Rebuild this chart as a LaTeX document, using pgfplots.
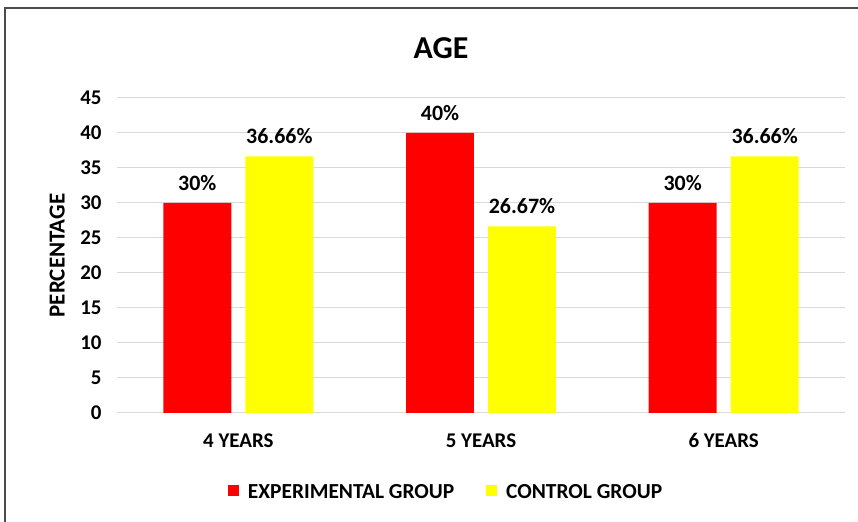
\documentclass[border=0pt]{standalone}
\usepackage{fontspec}
\setmainfont{Carlito}
\usepackage{pgfplots}
\pgfplotsset{compat=1.18}
\definecolor{gridgray}{HTML}{D9D9D9}
\definecolor{expred}{HTML}{FF0000}
\definecolor{ctlyellow}{HTML}{FFFF00}
\begin{document}
\begin{tikzpicture}[x=1bp,y=1bp]
\useasboundingbox (0,0) rectangle (858,522);
\draw[line width=1.2bp, black!70] (5,-5) -- (5,514) -- (865,514);
\node[font=\fontsize{32}{36}\selectfont\bfseries] at (441,474) {AGE};
\begin{axis}[
    at={(117bp,109bp)}, anchor=south west,
    scale only axis, width=728bp, height=315bp,
    ybar, bar width=0.28,
    xmin=-0.5, xmax=2.5, ymin=0, ymax=45,
    ytick={0,5,...,45},
    xtick={0,1,2},
    xticklabels={4 YEARS,5 YEARS,6 YEARS},
    axis line style={draw=none},
    major tick length=0pt,
    ymajorgrids, grid style={gridgray, line width=1bp},
    tick label style={font=\fontsize{21}{24}\selectfont\bfseries},
    /pgf/number format/assume math mode=true,
    yticklabel style={xshift=-12bp},
    xticklabel style={yshift=-17bp},
    ylabel={PERCENTAGE},
    ylabel style={at={(axis description cs:-0.082,0.5)}, anchor=center,
        font=\fontsize{23}{26}\selectfont\bfseries},
    nodes near coords,
    point meta=explicit symbolic,
    every node near coord/.append style={font=\fontsize{22}{25}\selectfont\bfseries, yshift=9bp},
    legend columns=2,
    legend style={draw=none, at={(0.452,-0.25)}, anchor=center,
        font=\fontsize{21.5}{24}\selectfont\bfseries},
    legend image code/.code={\fill[#1] (0bp,-4.5bp) rectangle (11bp,6.5bp); \path (18bp,0bp);},
    /tikz/every even column/.append style={column sep=30bp},
]
\addplot[fill=expred, draw=none, bar shift=-0.169]
    coordinates {(0,30) [30\%] (1,40) [40\%] (2,30) [30\%]};
\addplot[fill=ctlyellow, draw=none, bar shift=0.169]
    coordinates {(0,36.66) [36.66\%] (1,26.67) [26.67\%] (2,36.66) [36.66\%]};
\legend{EXPERIMENTAL GROUP, CONTROL GROUP}
\end{axis}
\end{tikzpicture}
\end{document}
